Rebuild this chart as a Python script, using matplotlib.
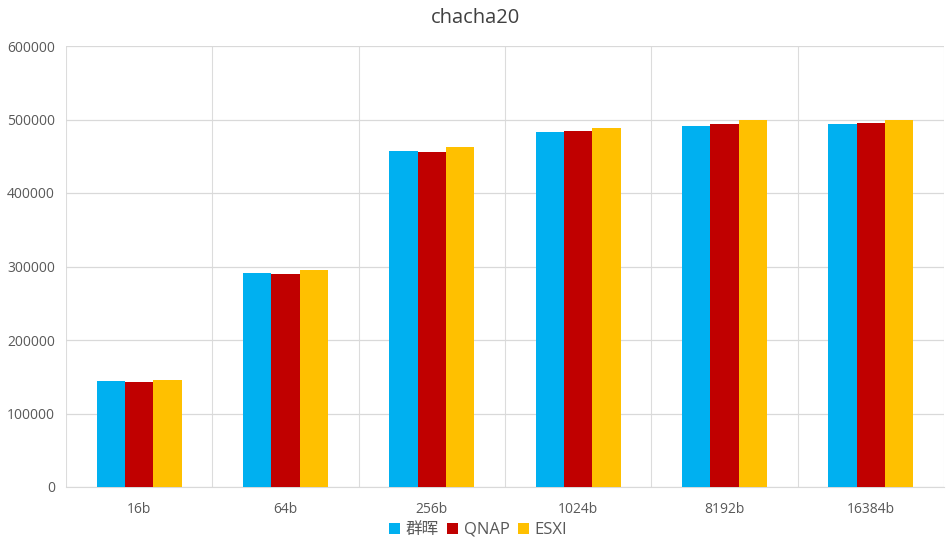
import numpy as np
import matplotlib.pyplot as plt
from matplotlib.ticker import FixedLocator

plt.rcParams['font.family'] = ['Open Sans', 'Noto Sans CJK SC', 'DejaVu Sans']

categories = ['16b', '64b', '256b', '1024b', '8192b', '16384b']
series_names = ['群晖', 'QNAP', 'ESXI']
qunhui = [144600, 291500, 457800, 482700, 491800, 493600]
qnap = [143200, 290200, 456400, 484000, 493600, 495000]
esxi = [146000, 295600, 463200, 489100, 499600, 499000]
colors = ['#00B0F0', '#C00000', '#FFC000']

fig = plt.figure(figsize=(9.5, 5.46), dpi=100)
ax = fig.add_axes([66 / 950, 1 - 487 / 546, (944 - 66) / 950, (487 - 46) / 546])

x = np.arange(len(categories))
w = 0.193
for i, (vals, name) in enumerate(zip([qunhui, qnap, esxi], series_names)):
    ax.bar(x + (i - 1) * w, vals, width=w, color=colors[i], label=name, zorder=3)

ax.set_xlim(-0.5, len(categories) - 0.5)
ax.set_ylim(0, 600000)
ax.set_yticks(np.arange(0, 600001, 100000))
ax.set_yticklabels([str(v) for v in range(0, 600001, 100000)])
ax.set_xticks(x)
ax.set_xticklabels(categories)
ax.xaxis.set_minor_locator(FixedLocator(np.arange(-0.5, len(categories), 1.0)))

ax.grid(axis='y', which='major', color='#D9D9D9', linewidth=0.9, zorder=0)
ax.grid(axis='x', which='minor', color='#DCDCDC', linewidth=0.8, zorder=0)
ax.tick_params(axis='both', which='both', length=0, colors='#595959', labelsize=10)
ax.tick_params(axis='x', pad=11)
ax.tick_params(axis='y', pad=8)
for side in ['top', 'right', 'left']:
    ax.spines[side].set_visible(False)
ax.spines['bottom'].set_color('#D9D9D9')

fig.text(0.5, 1 - 18 / 546, 'chacha20', ha='center', va='center', fontsize=14.5, color='#404040')

leg = fig.legend(loc='center', bbox_to_anchor=(478 / 950, 1 - 530 / 546), ncol=3, frameon=False,
                 fontsize=12, handlelength=0.65, handleheight=0.65, handletextpad=0.35,
                 columnspacing=0.5)
for t in leg.get_texts():
    t.set_color('#595959')

fig.savefig('out.png', dpi=100)
